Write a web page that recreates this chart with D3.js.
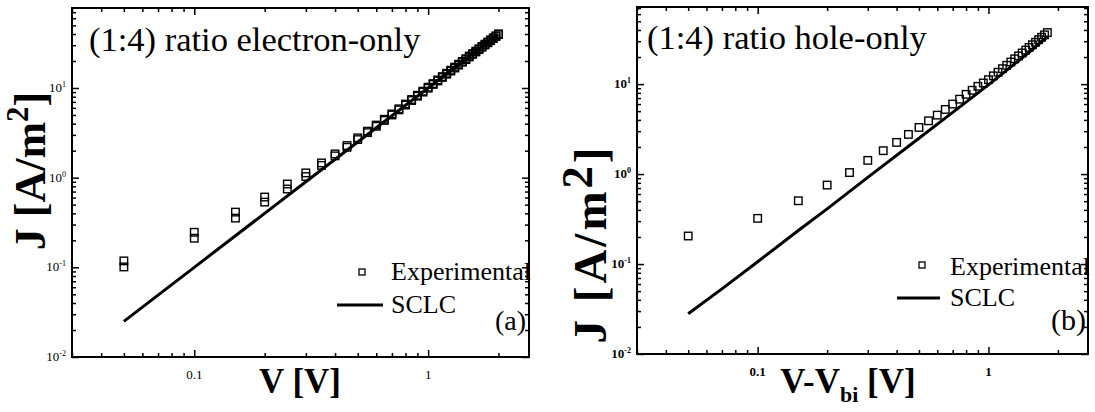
<!DOCTYPE html>
<html>
<head>
<meta charset="utf-8">
<script src="https://cdn.jsdelivr.net/npm/d3@7"></script>
<style>
  body { margin: 0; background: #fff; }
  svg { display: block; }
  text { font-family: "Liberation Serif", "Times New Roman", serif; fill: #000; }
</style>
</head>
<body>
<svg id="chart" width="1095" height="412"></svg>
<script>
// ---- data ----
const xDomain = [0.03, 2.7];
const xTickValues = [0.1, 1];
const xTickLabels = ["0.1", "1"];
const yTickExponents = [-2, -1, 0, 1];

// (a) electron-only device: two voltage sweeps
const electronV = [0.05, 0.10, 0.15, 0.20, 0.25, 0.30, 0.35, 0.40, 0.45, 0.50,
  0.55, 0.60, 0.65, 0.70, 0.75, 0.80, 0.85, 0.90, 0.95, 1.00,
  1.05, 1.10, 1.15, 1.20, 1.25, 1.30, 1.35, 1.40, 1.45, 1.50,
  1.55, 1.60, 1.65, 1.70, 1.75, 1.80, 1.85, 1.90, 1.95, 2.00];
const electronJSweep1 = [0.118, 0.246, 0.413, 0.608, 0.850, 1.13, 1.46, 1.84, 2.28, 2.78,
  3.30, 3.86, 4.48, 5.14, 5.86, 6.62, 7.44, 8.30, 9.22, 10.2,
  11.2, 12.3, 13.4, 14.6, 15.8, 17.1, 18.4, 19.8, 21.2, 22.7,
  24.2, 25.8, 27.4, 29.1, 30.8, 32.6, 34.4, 36.3, 38.2, 40.2];
const electronJSweep2 = [0.101, 0.211, 0.354, 0.534, 0.747, 1.03, 1.37, 1.75, 2.18, 2.66,
  3.18, 3.74, 4.35, 5.00, 5.70, 6.45, 7.25, 8.10, 9.00, 9.95,
  10.95, 12.0, 13.1, 14.25, 15.45, 16.7, 18.0, 19.35, 20.75, 22.2,
  23.7, 25.25, 26.85, 28.5, 30.2, 31.95, 33.75, 35.6, 37.5, 39.4];
const electronFitV = [0.05, 0.07, 0.10, 0.15, 0.20, 0.30, 0.50, 0.70, 1.00, 1.50, 2.00];
const electronFitJ = [0.025, 0.049, 0.100, 0.225, 0.40, 0.90, 2.5, 4.9, 10.0, 22.5, 39.5];

// (b) hole-only device
const holeV = [0.05, 0.10, 0.15, 0.20, 0.25, 0.30, 0.35, 0.40, 0.45, 0.50,
  0.55, 0.60, 0.65, 0.70, 0.75, 0.80, 0.85, 0.90, 0.95, 1.00,
  1.05, 1.10, 1.15, 1.20, 1.25, 1.30, 1.35, 1.40, 1.45, 1.50,
  1.55, 1.60, 1.65, 1.70, 1.75, 1.80];
const holeJ = [0.205, 0.322, 0.505, 0.755, 1.04, 1.42, 1.82, 2.25, 2.76, 3.30,
  3.91, 4.52, 5.23, 6.00, 6.80, 7.70, 8.55, 9.45, 10.3, 11.2,
  12.35, 13.55, 14.85, 16.2, 17.6, 19.1, 20.6, 22.2, 23.9, 25.6,
  27.4, 29.2, 31.2, 33.2, 35.3, 37.4];
const holeFitV = [0.05, 0.07, 0.10, 0.15, 0.20, 0.30, 0.50, 0.70, 1.00, 1.50, 1.80];
const holeFitJ = [0.028, 0.053, 0.106, 0.236, 0.41, 0.92, 2.5, 4.85, 9.8, 22.6, 33.6];

// ---- drawing ----
const svg = d3.select("#chart");
const isMajor = t => Math.abs(Math.log10(t) - Math.round(Math.log10(t))) < 1e-9;

function drawPanel(p) {
  const g = svg.append("g");
  const x = d3.scaleLog().domain(xDomain).range([p.left, p.right]);
  const y = d3.scaleLog().domain(p.yDomain).range([p.bottom, p.top]);

  const xMinor = x.ticks().filter(t => !isMajor(t));
  const yMinor = y.ticks().filter(t => !isMajor(t));
  const yMajor = yTickExponents.map(e => Math.pow(10, e));

  const tickGroup = (axis, tr) => {
    const a = g.append("g").attr("transform", tr).call(axis);
    a.select(".domain").remove();
    a.selectAll("line").attr("stroke", "#000").attr("stroke-width", 1.5);
    a.selectAll("text").remove();
  };
  // inward ticks on all four sides
  tickGroup(d3.axisBottom(x).tickValues(xTickValues).tickSize(-7), `translate(0,${p.bottom})`);
  tickGroup(d3.axisBottom(x).tickValues(xMinor).tickSize(-4), `translate(0,${p.bottom})`);
  tickGroup(d3.axisTop(x).tickValues(xTickValues).tickSize(-7), `translate(0,${p.top})`);
  tickGroup(d3.axisTop(x).tickValues(xMinor).tickSize(-4), `translate(0,${p.top})`);
  tickGroup(d3.axisLeft(y).tickValues(yMajor).tickSize(-7), `translate(${p.left},0)`);
  tickGroup(d3.axisLeft(y).tickValues(yMinor).tickSize(-4), `translate(${p.left},0)`);
  tickGroup(d3.axisRight(y).tickValues(yMajor).tickSize(-7), `translate(${p.right},0)`);
  tickGroup(d3.axisRight(y).tickValues(yMinor).tickSize(-4), `translate(${p.right},0)`);

  // frame
  g.append("rect")
    .attr("x", p.left).attr("y", p.top)
    .attr("width", p.right - p.left).attr("height", p.bottom - p.top)
    .attr("fill", "none").attr("stroke", "#000").attr("stroke-width", 2);

  const weight = p.boldTicks ? "bold" : "normal";
  // x tick labels
  g.selectAll(".xl").data(xTickValues).join("text")
    .attr("x", d => x(d)).attr("y", p.xTickBaseline)
    .attr("text-anchor", "middle").attr("font-size", 13).attr("font-weight", weight)
    .text((d, i) => xTickLabels[i]);
  // y tick labels 10^n
  yTickExponents.forEach(e => {
    const t = g.append("text")
      .attr("x", p.left - 6).attr("y", y(Math.pow(10, e)) + 4)
      .attr("text-anchor", "end").attr("font-size", 13).attr("font-weight", weight);
    t.append("tspan").text("10");
    t.append("tspan").attr("dy", -5).attr("font-size", 8).text(e);
  });

  // SCLC fit line
  const line = d3.line().x(d => x(d[0])).y(d => y(d[1]));
  g.append("path")
    .datum(p.fitV.map((v, i) => [v, p.fitJ[i]]))
    .attr("d", line).attr("fill", "none")
    .attr("stroke", "#000").attr("stroke-width", 3);

  // experimental squares
  const s = 7.5;
  p.series.forEach(js => {
    g.selectAll(null).data(p.v.map((v, i) => [v, js[i]])).join("rect")
      .attr("x", d => x(d[0]) - s / 2).attr("y", d => y(d[1]) - s / 2)
      .attr("width", s).attr("height", s)
      .attr("fill", "none").attr("stroke", "#000").attr("stroke-width", 1.4);
  });

  // title
  g.append("text").attr("x", p.titleX).attr("y", p.titleY)
    .attr("font-size", 34.5).text(p.title);

  // legend
  const L = p.legend;
  g.append("rect").attr("x", L.sx - 3).attr("y", L.sy - 3)
    .attr("width", 6).attr("height", 6)
    .attr("fill", "none").attr("stroke", "#000").attr("stroke-width", 1.3);
  g.append("text").attr("x", L.tx).attr("y", L.ty1).attr("font-size", 26).text("Experimental");
  g.append("line").attr("x1", L.lx1).attr("x2", L.lx2).attr("y1", L.ly).attr("y2", L.ly)
    .attr("stroke", "#000").attr("stroke-width", 3);
  g.append("text").attr("x", L.tx).attr("y", L.ty2).attr("font-size", 26).text("SCLC");
  g.append("text").attr("x", L.tagX).attr("y", L.tagY).attr("text-anchor", "end")
    .attr("font-size", L.tagSize).text(p.tag);

  // axis titles
  const xl = g.append("text").attr("x", p.xLabelX).attr("y", p.xLabelY)
    .attr("text-anchor", "middle").attr("font-size", 35).attr("font-weight", "bold");
  p.xLabel(xl);

  const yl = g.append("text")
    .attr("transform", `translate(${p.yLabelX},${p.yLabelY}) rotate(-90)`)
    .attr("text-anchor", "middle").attr("font-size", p.yLabelSize).attr("font-weight", "bold")
    .attr("letter-spacing", p.yLabelSpacing);
  yl.append("tspan").text("J [A/m");
  yl.append("tspan").attr("dy", -p.yLabelSize * p.supRaise).attr("font-size", p.yLabelSize * p.supScale).text("2");
  yl.append("tspan").attr("dy", p.yLabelSize * p.supRaise).text("]");
}

drawPanel({
  left: 72, right: 529, top: 8, bottom: 357, yDomain: [0.01, 78],
  boldTicks: false, xTickBaseline: 379,
  v: electronV, series: [electronJSweep1, electronJSweep2],
  fitV: electronFitV, fitJ: electronFitJ,
  title: "(1:4) ratio electron-only", titleX: 89, titleY: 51,
  tag: "(a)",
  legend: { sx: 362, sy: 272, tx: 391, ty1: 280, ty2: 313, lx1: 337, lx2: 383, ly: 305,
            tagX: 526, tagY: 330, tagSize: 28 },
  xLabelX: 300, xLabelY: 393,
  xLabel: t => t.text("V [V]"),
  yLabelX: 45, yLabelY: 171, yLabelSize: 44, supScale: 0.7, supRaise: 0.38, yLabelSpacing: 0
});

drawPanel({
  left: 637, right: 1088, top: 7, bottom: 354, yDomain: [0.01, 72],
  boldTicks: true, xTickBaseline: 376,
  v: holeV, series: [holeJ],
  fitV: holeFitV, fitJ: holeFitJ,
  title: "(1:4) ratio hole-only", titleX: 647, titleY: 49,
  tag: "(b)",
  legend: { sx: 922, sy: 265, tx: 950, ty1: 275, ty2: 306, lx1: 897, lx2: 940, ly: 298,
            tagX: 1086, tagY: 330, tagSize: 30 },
  xLabelX: 848, xLabelY: 393,
  xLabel: t => {
    t.append("tspan").text("V-V");
    t.append("tspan").attr("dy", 9).attr("font-size", 22).text("bi");
    t.append("tspan").attr("dy", -9).text(" [V]");
  },
  yLabelX: 606, yLabelY: 244, yLabelSize: 47, supScale: 0.95, supRaise: 0.3, yLabelSpacing: 3
});
</script>
</body>
</html>
